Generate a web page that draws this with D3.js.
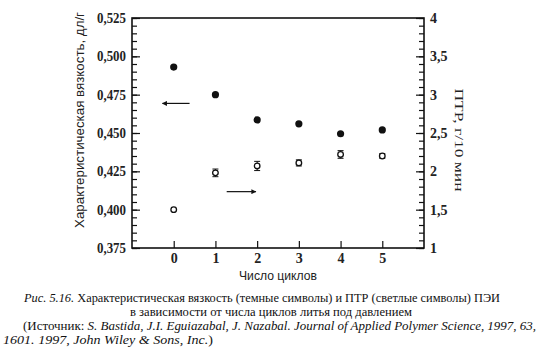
<!DOCTYPE html>
<html><head><meta charset="utf-8">
<script src="https://cdn.jsdelivr.net/npm/d3@7"></script>
<style>body{margin:0;background:#fff}svg{display:block}</style>
</head><body>
<svg id="c" width="539" height="356"></svg>
<script>
const cycles = [0, 1, 2, 3, 4, 5];
const viscosity = [0.493, 0.475, 0.4585, 0.456, 0.4495, 0.452];
const mfr = [1.50, 1.98, 2.07, 2.11, 2.22, 2.20];
const mfrErr = [0, 0.05, 0.06, 0.04, 0.05, 0.03];
const leftTicks = [0.375, 0.400, 0.425, 0.450, 0.475, 0.500, 0.525];
const rightTicks = [1, 1.5, 2, 2.5, 3, 3.5, 4];
const xTicks = [0, 1, 2, 3, 4, 5];
const captionLines = [
  [{t:"Рис. 5.16. ", i:true},{t:"Характеристическая вязкость (темные символы) и ПТР (светлые символы) ПЭИ"}],
  [{t:"в зависимости от числа циклов литья под давлением"}],
  [{t:"(Источник: "},{t:"S. Bastida, J.I. Eguiazabal, J. Nazabal. Journal of Applied Polymer Science, 1997, 63,", i:true}],
  [{t:"1601. 1997, John Wiley & Sons, Inc.", i:true},{t:")"}]
];

const svg = d3.select("#c");
const L = 132, R = 424, T = 18, B = 248;
const x = d3.scaleLinear().domain([-1, 6]).range([L, R]);
const yL = d3.scaleLinear().domain([0.375, 0.525]).range([B, T]);
const yR = d3.scaleLinear().domain([1, 4]).range([B, T]);
const serif = "'Liberation Serif','DejaVu Serif',serif";
const sans = "'Liberation Sans','DejaVu Sans',sans-serif";

// frame
svg.append("rect").attr("x", L).attr("y", T).attr("width", R - L).attr("height", B - T)
  .attr("fill", "none").attr("stroke", "#111").attr("stroke-width", 1.6);

// left axis
const fmtL = v => d3.format(".3f")(v).replace(".", ",");
const gL = svg.append("g").attr("transform", `translate(${L},0)`)
  .call(d3.axisLeft(yL).tickValues(leftTicks).tickFormat(fmtL).tickSize(-8).tickPadding(6));
const gLm = svg.append("g").attr("transform", `translate(${L},0)`)
  .call(d3.axisLeft(yL).tickValues(d3.range(0.375, 0.5251, 0.005)).tickFormat("").tickSize(-5));
// right axis
const fmtR = v => String(v).replace(".", ",");
const gR = svg.append("g").attr("transform", `translate(${R},0)`)
  .call(d3.axisRight(yR).tickValues(rightTicks).tickFormat(fmtR).tickSize(-8).tickPadding(6));
const gRm = svg.append("g").attr("transform", `translate(${R},0)`)
  .call(d3.axisRight(yR).tickValues(d3.range(1, 4.001, 0.1)).tickFormat("").tickSize(-5));
// bottom axis
const gB = svg.append("g").attr("transform", `translate(0,${B})`)
  .call(d3.axisBottom(x).tickValues(xTicks).tickFormat(d3.format("d")).tickSize(-7).tickPadding(5));

[gL, gLm, gR, gRm, gB].forEach(g => {
  g.select(".domain").remove();
  g.selectAll("line").attr("stroke", "#111").attr("stroke-width", 1.2);
  g.selectAll("text").attr("font-family", serif).attr("font-size", 14).attr("font-weight", "bold").attr("fill", "#222");
});
gL.selectAll("text").attr("textLength", 29).attr("lengthAdjust", "spacingAndGlyphs");
gR.selectAll("text").attr("text-anchor", "start");

// error bars
const eb = svg.append("g").attr("stroke", "#111").attr("stroke-width", 1);
cycles.forEach((c, i) => {
  if (!mfrErr[i]) return;
  const cx = x(c), y1 = yR(mfr[i] + mfrErr[i]), y2 = yR(mfr[i] - mfrErr[i]);
  eb.append("line").attr("x1", cx).attr("x2", cx).attr("y1", y1).attr("y2", y2);
  eb.append("line").attr("x1", cx - 3).attr("x2", cx + 3).attr("y1", y1).attr("y2", y1);
  eb.append("line").attr("x1", cx - 3).attr("x2", cx + 3).attr("y1", y2).attr("y2", y2);
});
// open symbols
svg.append("g").selectAll("circle").data(cycles).join("circle")
  .attr("cx", d => x(d)).attr("cy", (d, i) => yR(mfr[i])).attr("r", 2.8)
  .attr("fill", "#fff").attr("stroke", "#111").attr("stroke-width", 1.3);
// dark symbols
svg.append("g").selectAll("circle").data(cycles).join("circle")
  .attr("cx", d => x(d)).attr("cy", (d, i) => yL(viscosity[i])).attr("r", 3.6)
  .attr("fill", "#111");

// arrows
const defs = svg.append("defs");
defs.append("marker").attr("id", "ah").attr("viewBox", "0 0 10 10").attr("refX", 9).attr("refY", 5)
  .attr("markerWidth", 7).attr("markerHeight", 5).attr("markerUnits", "userSpaceOnUse").attr("orient", "auto")
  .append("path").attr("d", "M0,0L10,5L0,10z").attr("fill", "#111");
svg.append("line").attr("x1", x(0.38)).attr("x2", x(-0.27)).attr("y1", yL(0.4693)).attr("y2", yL(0.4693))
  .attr("stroke", "#111").attr("stroke-width", 1.2).attr("marker-end", "url(#ah)");
svg.append("line").attr("x1", x(1.27)).attr("x2", x(1.97)).attr("y1", yR(1.735)).attr("y2", yR(1.735))
  .attr("stroke", "#111").attr("stroke-width", 1.2).attr("marker-end", "url(#ah)");

// axis titles
svg.append("text").attr("transform", "translate(84,120) rotate(-90)").attr("text-anchor", "middle")
  .attr("font-family", sans).attr("font-size", 13).attr("fill", "#222")
  .attr("textLength", 216).attr("lengthAdjust", "spacingAndGlyphs")
  .text("Характеристическая вязкость, дл/г");
svg.append("text").attr("transform", "translate(455,140) rotate(90)").attr("text-anchor", "middle")
  .attr("font-family", serif).attr("font-size", 13).attr("fill", "#222")
  .attr("textLength", 103).attr("lengthAdjust", "spacingAndGlyphs")
  .text("ПТР, г/10 мин");
svg.append("text").attr("x", 278).attr("y", 280).attr("text-anchor", "middle")
  .attr("font-family", sans).attr("font-size", 12).attr("fill", "#222")
  .attr("textLength", 78).attr("lengthAdjust", "spacingAndGlyphs")
  .text("Число циклов");

// caption
const capPos = [{x:24, y:302, w:476}, {x:130, y:316, w:282}, {x:23, y:330, w:513}, {x:3, y:344, w:210}];
captionLines.forEach((line, k) => {
  const p = capPos[k];
  const t = svg.append("text").attr("x", p.x).attr("y", p.y)
    .attr("font-family", serif).attr("font-size", 13).attr("fill", "#111")
    .attr("textLength", p.w).attr("lengthAdjust", "spacingAndGlyphs");
  line.forEach(s => t.append("tspan").attr("font-style", s.i ? "italic" : "normal").text(s.t));
});
</script>
</body></html>
